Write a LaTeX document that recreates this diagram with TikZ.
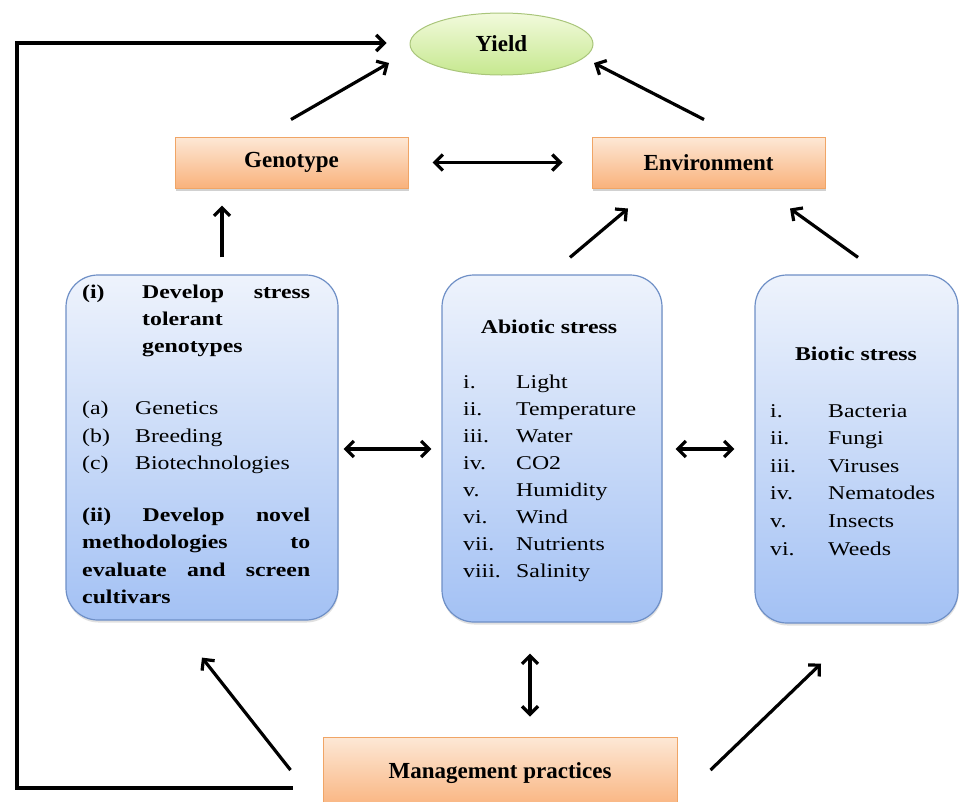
\documentclass[tikz,border=0pt]{standalone}
\usepackage{fontspec}
\setmainfont{Liberation Serif}
\newfontfamily\bodyfont[FakeStretch=1.22]{Liberation Serif}
\newfontfamily\headfont{Liberation Serif}
\usetikzlibrary{arrows.meta,shapes.geometric,calc,shadows}

\definecolor{orTop}{HTML}{FDE8D6}
\definecolor{orBot}{HTML}{F9B27C}
\definecolor{orLine}{HTML}{F0A566}
\definecolor{blTop}{HTML}{EEF3FC}
\definecolor{blBot}{HTML}{A3C1F4}
\definecolor{blLine}{HTML}{6E8FC6}
\definecolor{grTop}{HTML}{F2FADC}
\definecolor{grBot}{HTML}{C6E88F}
\definecolor{grLine}{HTML}{A9C57A}

\begin{document}
\begin{tikzpicture}[x=1pt,y=-1pt,
  headtxt/.style={font=\headfont\fontsize{23}{27}\selectfont\bfseries},
  obox/.style={rectangle, draw=orLine, line width=1pt, top color=orTop, bottom color=orBot,
    minimum width=233pt, minimum height=51pt, inner sep=0pt, headtxt,
    drop shadow={opacity=0.3, shadow xshift=0.5pt, shadow yshift=-2.5pt, fill=black!60}},
  bbox/.style={rectangle, rounded corners=32pt, draw=blLine, line width=1.2pt,
    top color=blTop, bottom color=blBot, inner sep=0pt,
    drop shadow={opacity=0.2, shadow xshift=0.5pt, shadow yshift=-2.5pt, fill=black!60}},
  arr/.style={line width=3.2pt, -{Straight Barb[length=8pt,width=16pt]}},
  darr/.style={line width=3.2pt, {Straight Barb[length=8pt,width=16pt]}-{Straight Barb[length=8pt,width=16pt]}},
  bodytxt/.style={inner sep=0pt, font=\bodyfont\fontsize{19.5}{27.4}\selectfont}
]
\useasboundingbox (0,0) rectangle (960,801);
\clip (0,0) rectangle (960,801);

% main nodes
\node[ellipse, draw=grLine, line width=1pt, top color=grTop, bottom color=grBot,
  minimum width=183pt, minimum height=62pt, inner sep=0pt, headtxt] (yield) at (501.5,44) {Yield};
\node[obox] (geno) at (291.5,162.5) {Genotype};
\node[obox] (env) at (708.5,162.5) {Environment};
\node[obox, minimum width=354pt, minimum height=73pt] (mgmt) at (500,773.5) {Management practices};

\node[bbox, minimum width=272pt, minimum height=345pt] (lbox) at (202,447.5) {};
\node[bbox, minimum width=220pt, minimum height=347pt] (mbox) at (552,448.5) {};
\node[bbox, minimum width=203pt, minimum height=348pt] (rbox) at (856.5,449) {};

% left box text
\node[bodytxt, anchor=base west] (ltext) at (82,298) {\parbox[t]{228pt}{\bfseries
\makebox[228pt][l]{\makebox[60pt][l]{(i)}Develop\hfill stress}\\
\hspace*{60pt}tolerant\\
\hspace*{60pt}genotypes\\[34.5pt]
\mdseries\makebox[53pt][l]{(a)}Genetics\\
\makebox[53pt][l]{(b)}Breeding\\
\makebox[53pt][l]{(c)}Biotechnologies\\[24.5pt]
\bfseries\makebox[228pt][l]{(ii)\hfill Develop\hfill novel}\\
\makebox[228pt][l]{methodologies\hfill to}\\
\makebox[228pt][l]{evaluate\hfill and\hfill screen}\\
cultivars}};

% middle box text
\node[bodytxt, anchor=base, font=\bodyfont\fontsize{19.5}{27.4}\selectfont\bfseries] (mtitle) at (549,333) {Abiotic stress};
\node[bodytxt, anchor=base west] (mlist) at (463,388) {\parbox[t]{190pt}{\fontsize{19.5}{27}\selectfont
\makebox[53pt][l]{i.}Light\\
\makebox[53pt][l]{ii.}Temperature\\
\makebox[53pt][l]{iii.}Water\\
\makebox[53pt][l]{iv.}CO2\\
\makebox[53pt][l]{v.}Humidity\\
\makebox[53pt][l]{vi.}Wind\\
\makebox[53pt][l]{vii.}Nutrients\\
\makebox[53pt][l]{viii.}Salinity}};

% right box text
\node[bodytxt, anchor=base, font=\bodyfont\fontsize{19.5}{27.4}\selectfont\bfseries] (rtitle) at (856,360) {Biotic stress};
\node[bodytxt, anchor=base west] (rlist) at (770,417) {\parbox[t]{180pt}{\fontsize{19.5}{27.6}\selectfont
\makebox[58pt][l]{i.}Bacteria\\
\makebox[58pt][l]{ii.}Fungi\\
\makebox[58pt][l]{iii.}Viruses\\
\makebox[58pt][l]{iv.}Nematodes\\
\makebox[58pt][l]{v.}Insects\\
\makebox[58pt][l]{vi.}Weeds}};

% connectors
\draw[arr] ($(geno.north)+(-0.5,-17)$) -- ($(yield.center)+(-112.5,19)$);
\draw[arr] ($(env.north)+(-4.5,-17)$) -- ($(yield.center)+(92.5,19)$);
\draw[darr] ($(geno.east)+(24,0)$) -- ($(env.west)+(-29,0)$);
\draw[arr] ($(lbox.north)+(20,-17)$) -- ($(geno.south)+(-69.5,17)$);
\draw[arr] ($(mbox.north)+(18,-17)$) -- ($(env.south)+(-80.5,20)$);
\draw[arr] ($(rbox.north)+(1.5,-17)$) -- ($(env.south)+(81.5,20)$);
\draw[darr] ($(lbox.east)+(5,1.5)$) -- ($(mbox.west)+(-10,0.5)$);
\draw[darr] ($(mbox.east)+(13,0.5)$) -- ($(rbox.west)+(-20,0)$);
\draw[darr] ($(mbox.south)+(-22,31)$) -- ($(mgmt.north)+(30,-20)$);
\draw[arr] ($(mgmt.west)+(-32,-3.5)$) -- ($(lbox.south)+(0,37)$);
\draw[arr] ($(mgmt.east)+(33,-3.5)$) -- ($(rbox.south)+(-35.5,40)$);

\coordinate (fbB) at (17,788);
\coordinate (fbT) at (17,43);
\draw[arr] ($(mgmt.west)+(-30,14.5)$) -- (fbB) -- (fbT) -- ($(yield.west)+(-23,-1)$);
\end{tikzpicture}
\end{document}
